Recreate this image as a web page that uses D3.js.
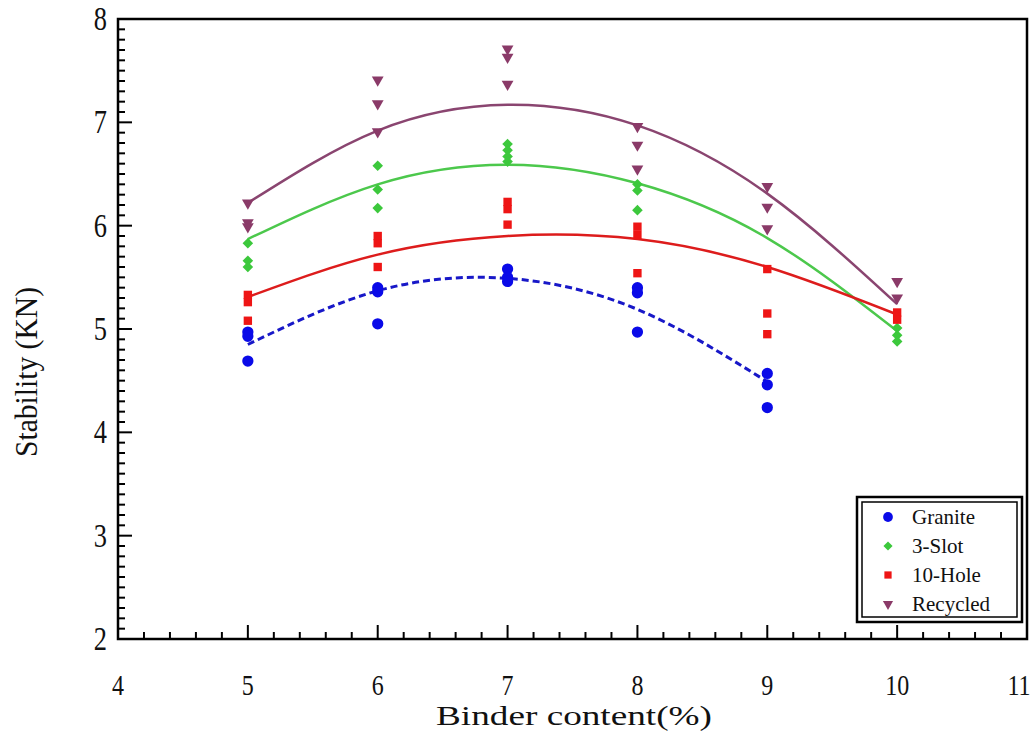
<!DOCTYPE html>
<html>
<head>
<meta charset="utf-8">
<script src="https://cdn.jsdelivr.net/npm/d3@7"></script>
<style>
  body { margin: 0; background: #fff; }
</style>
</head>
<body>
<svg id="chart" width="1036" height="732"></svg>
<script>
// binder content where the fitted curves are evaluated
const binder = [5, 6, 7, 8, 9, 10];

// measured points [binder %, stability kN]
const graniteData = [[5,4.97],[5,4.93],[5,4.69],[6,5.40],[6,5.36],[6,5.05],[7,5.58],[7,5.50],[7,5.46],
    [8,5.40],[8,5.35],[8,4.97],[9,4.57],[9,4.46],[9,4.24]];
const slot3Data = [[5,5.83],[5,5.66],[5,5.60],[6,6.58],[6,6.35],[6,6.17],[7,6.79],[7,6.73],[7,6.67],[7,6.62],
    [8,6.40],[8,6.34],[8,6.15],[10,5.01],[10,4.94],[10,4.88]];
const hole10Data = [[5,5.33],[5,5.26],[5,5.08],[6,5.90],[6,5.83],[6,5.60],[7,6.23],[7,6.16],[7,6.01],
    [8,5.99],[8,5.91],[8,5.54],[9,5.58],[9,5.15],[9,4.95],[10,5.16],[10,5.09]];
const recycledData = [[5,6.22],[5,6.03],[5,5.99],[6,7.41],[6,7.18],[6,6.91],[7,7.71],[7,7.63],[7,7.37],
    [8,6.96],[8,6.78],[8,6.55],[9,6.38],[9,6.18],[9,5.97],[10,5.46],[10,5.30]];

// trend line values read at each binder content
const graniteFit = [4.85, 5.37, 5.49, 5.19, 4.49];
const slot3Fit = [5.87, 6.40, 6.59, 6.41, 5.88, 4.98];
const hole10Fit = [5.31, 5.72, 5.90, 5.87, 5.60, 5.14];
const recycledFit = [6.22, 6.92, 7.17, 6.97, 6.31, 5.24];

const xTicks = [4, 5, 6, 7, 8, 9, 10, 11];
const yTicks = [2, 3, 4, 5, 6, 7, 8];
const seriesNames = ["Granite", "3-Slot", "10-Hole", "Recycled"];

const serif = "Liberation Serif";

let svg = d3.select("#chart");

let x = d3.scaleLinear().domain([4, 11]).range([118, 1027]);
let y = d3.scaleLinear().domain([2, 8]).range([639, 19]);

let series = [
    {name: seriesNames[0], pts: graniteData, fit: graniteFit, color: "#0a0ae8", line: "#1818c8",
        symbol: d3.symbolCircle, size: 100, rot: 0, dash: "7,4"},
    {name: seriesNames[1], pts: slot3Data, fit: slot3Fit, color: "#3cc83c", line: "#4cc84c",
        symbol: d3.symbolSquare, size: 56, rot: 45, dash: null},
    {name: seriesNames[2], pts: hole10Data, fit: hole10Fit, color: "#ee1515", line: "#dd1c1c",
        symbol: d3.symbolSquare, size: 70, rot: 0, dash: null},
    {name: seriesNames[3], pts: recycledData, fit: recycledFit, color: "#8a3a68", line: "#8a4570",
        symbol: d3.symbolTriangle, size: 60, rot: 180, dash: null}
];

// trend curves
let line = d3.line()
    .x((d, i) => x(binder[i]))
    .y(d => y(d))
    .curve(d3.curveNatural);

series.forEach(s => {
    svg.append("path")
        .attr("d", line(s.fit))
        .attr("fill", "none")
        .attr("stroke", s.line)
        .attr("stroke-width", s.dash ? 3 : 2.5)
        .attr("stroke-dasharray", s.dash);
});

// markers
series.forEach(s => {
    svg.append("g").selectAll("path")
        .data(s.pts)
        .enter().append("path")
        .attr("d", d3.symbol().type(s.symbol).size(s.size))
        .attr("transform", d => "translate(" + x(d[0]) + "," + y(d[1]) + ")rotate(" + s.rot + ")")
        .attr("fill", s.color);
});

// ticks (inside, left and bottom)
let axisG = svg.append("g");
let xMinor = d3.range(4, 11.001, 0.2).map(v => +v.toFixed(1));
axisG.selectAll(".xt")
    .data(xMinor)
    .enter().append("line")
    .attr("x1", d => x(d)).attr("x2", d => x(d))
    .attr("y1", y(2))
    .attr("y2", d => y(2) - (Number.isInteger(d) ? 14 : 7))
    .attr("stroke", "#000").attr("stroke-width", 2);

let yMinor = d3.range(2, 8.001, 0.1).map(v => +v.toFixed(1));
axisG.selectAll(".yt")
    .data(yMinor)
    .enter().append("line")
    .attr("y1", d => y(d)).attr("y2", d => y(d))
    .attr("x1", x(4))
    .attr("x2", d => x(4) + (Number.isInteger(d) ? 14 : 7))
    .attr("stroke", "#000").attr("stroke-width", 2);

// frame
svg.append("rect")
    .attr("x", x(4)).attr("y", y(8))
    .attr("width", x(11) - x(4)).attr("height", y(2) - y(8))
    .attr("fill", "none").attr("stroke", "#000").attr("stroke-width", 2.5);

// tick labels (narrow serif like the original); last one is kept inside the page
svg.selectAll(".xl")
    .data(xTicks)
    .enter().append("text")
    .attr("transform", d => "translate(" + Math.min(x(d), 1019) + ",695)scale(0.8,1)")
    .attr("text-anchor", "middle")
    .style("font-family", serif)
    .style("font-size", "30px")
    .attr("fill", "#111")
    .text(d => d);

svg.selectAll(".yl")
    .data(yTicks)
    .enter().append("text")
    .attr("transform", d => "translate(107," + (y(d) + 11) + ")scale(0.8,1)")
    .attr("text-anchor", "end")
    .style("font-family", serif)
    .style("font-size", "33px")
    .attr("fill", "#111")
    .text(d => d);

// axis titles
svg.append("text")
    .attr("x", 574)
    .attr("y", 725)
    .attr("text-anchor", "middle")
    .style("font-family", serif)
    .style("font-size", "28px")
    .attr("textLength", 276)
    .attr("lengthAdjust", "spacingAndGlyphs")
    .attr("fill", "#111")
    .text("Binder content(%)");

svg.append("text")
    .attr("transform", "translate(37,372)rotate(-90)")
    .attr("text-anchor", "middle")
    .style("font-family", serif)
    .style("font-size", "31px")
    .attr("textLength", 170)
    .attr("lengthAdjust", "spacingAndGlyphs")
    .attr("fill", "#111")
    .text("Stability (KN)");

// legend
let lg = svg.append("g").attr("transform", "translate(857,497)");
lg.append("rect").attr("width", 165).attr("height", 125)
    .attr("fill", "#fff").attr("stroke", "#000").attr("stroke-width", 2.5);
lg.append("rect").attr("x", 5).attr("y", 5).attr("width", 155).attr("height", 115)
    .attr("fill", "none").attr("stroke", "#000").attr("stroke-width", 1.5);

series.forEach((s, i) => {
    let row = lg.append("g").attr("transform", "translate(0," + (20 + i * 29) + ")");
    row.append("path")
        .attr("d", d3.symbol().type(s.symbol).size(s.size * 0.75))
        .attr("transform", "translate(31,0)rotate(" + s.rot + ")")
        .attr("fill", s.color);
    row.append("text")
        .attr("x", 55)
        .attr("y", 7)
        .style("font-family", serif)
        .style("font-size", "21px")
        .attr("fill", "#111")
        .text(s.name);
});
</script>
</body>
</html>
